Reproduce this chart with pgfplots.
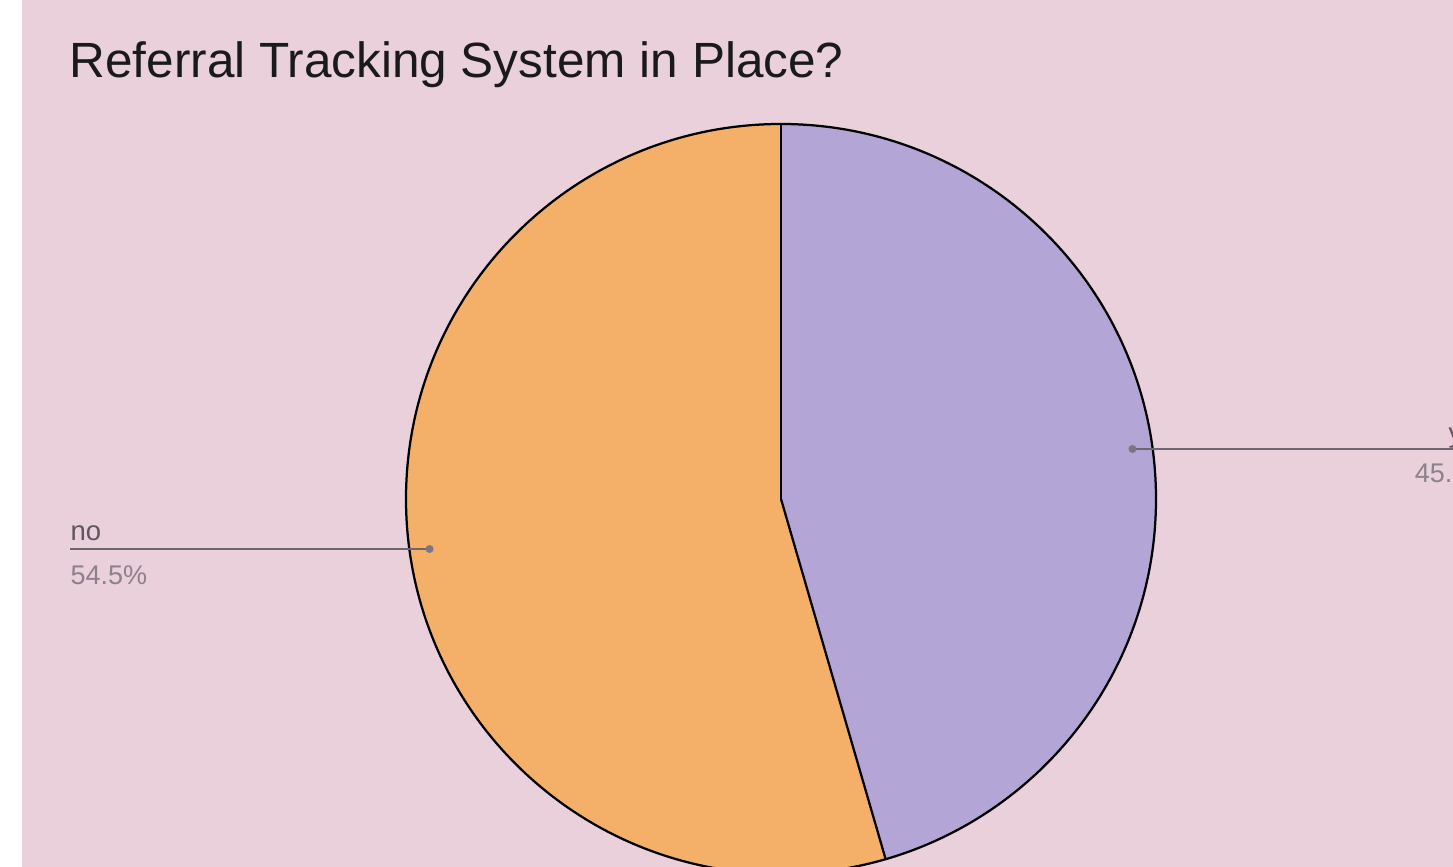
\documentclass[border=0pt]{standalone}
\usepackage{pgfplots}
\pgfplotsset{compat=1.18}
\usepackage{pgfplotstable}
\usepackage{fontspec}
\setmainfont{Liberation Sans}
\definecolor{bgpink}{HTML}{E9D0DB}
\definecolor{slorange}{HTML}{F4B068}
\definecolor{slpurple}{HTML}{B3A6D6}
\definecolor{leadline}{HTML}{6F6571}
\definecolor{leaddot}{HTML}{7E7486}
\definecolor{labtext}{HTML}{5E5560}
\definecolor{pcttext}{HTML}{8C818C}
\definecolor{titletext}{HTML}{1A1A1A}

\pgfplotstableread{
label value
yes 45.5
no 54.5
}\piedata
\pgfplotstablegetelem{0}{value}\of\piedata
\let\yesval\pgfplotsretval
\pgfplotstablegetelem{1}{value}\of\piedata
\let\noval\pgfplotsretval
\pgfmathsetmacro\yesend{90-3.6*\yesval}
\pgfmathsetmacro\yesmid{90-1.8*\yesval}
\pgfmathsetmacro\noend{\yesend-3.6*\noval}
\pgfmathsetmacro\nomid{\yesend-1.8*\noval}

\begin{document}
\begin{tikzpicture}
\begin{axis}[
  x=0.4pt, y=0.4pt,
  xmin=0, xmax=1453, ymin=0, ymax=867,
  hide axis, clip=true,
]
\fill[white] (axis cs:0,0) rectangle (axis cs:1453,867);
\fill[bgpink] (axis cs:22,0) rectangle (axis cs:1453,867);
% slices
\fill[slpurple] (axis cs:781,368) -- ++(90:150pt) arc[start angle=90, end angle=\yesend, radius=150pt] -- cycle;
\fill[slorange] (axis cs:781,368) -- ++(\yesend:150pt) arc[start angle=\yesend, end angle=\noend, radius=150pt] -- cycle;
\draw[black, line width=0.9pt] (axis cs:781,368) circle[radius=150pt];
\draw[black, line width=0.9pt] (axis cs:781,368) -- ++(90:150pt);
\draw[black, line width=0.9pt] (axis cs:781,368) -- ++(\yesend:150pt);
% leaders
\coordinate (Rr) at (axis cs:1500,0);
\coordinate (Ll) at (axis cs:70,0);
\path (axis cs:781,368) ++(\yesmid:142pt) coordinate (yd);
\path (axis cs:781,368) ++(\nomid:142pt) coordinate (nd);
\draw[leadline, line width=0.9pt] (yd) -- (yd -| Rr);
\draw[leadline, line width=0.9pt] (nd) -- (nd -| Ll);
\fill[leaddot] (yd) circle[radius=1.6pt];
\fill[leaddot] (nd) circle[radius=1.6pt];
% labels
\node[anchor=base west, inner sep=0pt, text=labtext, font=\fontsize{11}{13}\selectfont] at (axis cs:70,326) {no};
\node[anchor=base west, inner sep=0pt, text=pcttext, font=\fontsize{10.8}{13}\selectfont] at (axis cs:70,282) {\noval\%};
\node[anchor=base east, inner sep=0pt, text=labtext, font=\fontsize{11}{13}\selectfont] at (axis cs:1492,424) {yes};
\node[anchor=base east, inner sep=0pt, text=pcttext, font=\fontsize{10.8}{13}\selectfont] at (axis cs:1492,384) {\yesval\%};
% title
\node[anchor=base west, inner sep=0pt, text=titletext, font=\fontsize{19.8}{24}\selectfont] at (axis cs:69,789) {Referral Tracking System in Place?};
\end{axis}
\pgfresetboundingbox
\useasboundingbox (current axis.south west) rectangle (current axis.north east);
\end{tikzpicture}
\end{document}
